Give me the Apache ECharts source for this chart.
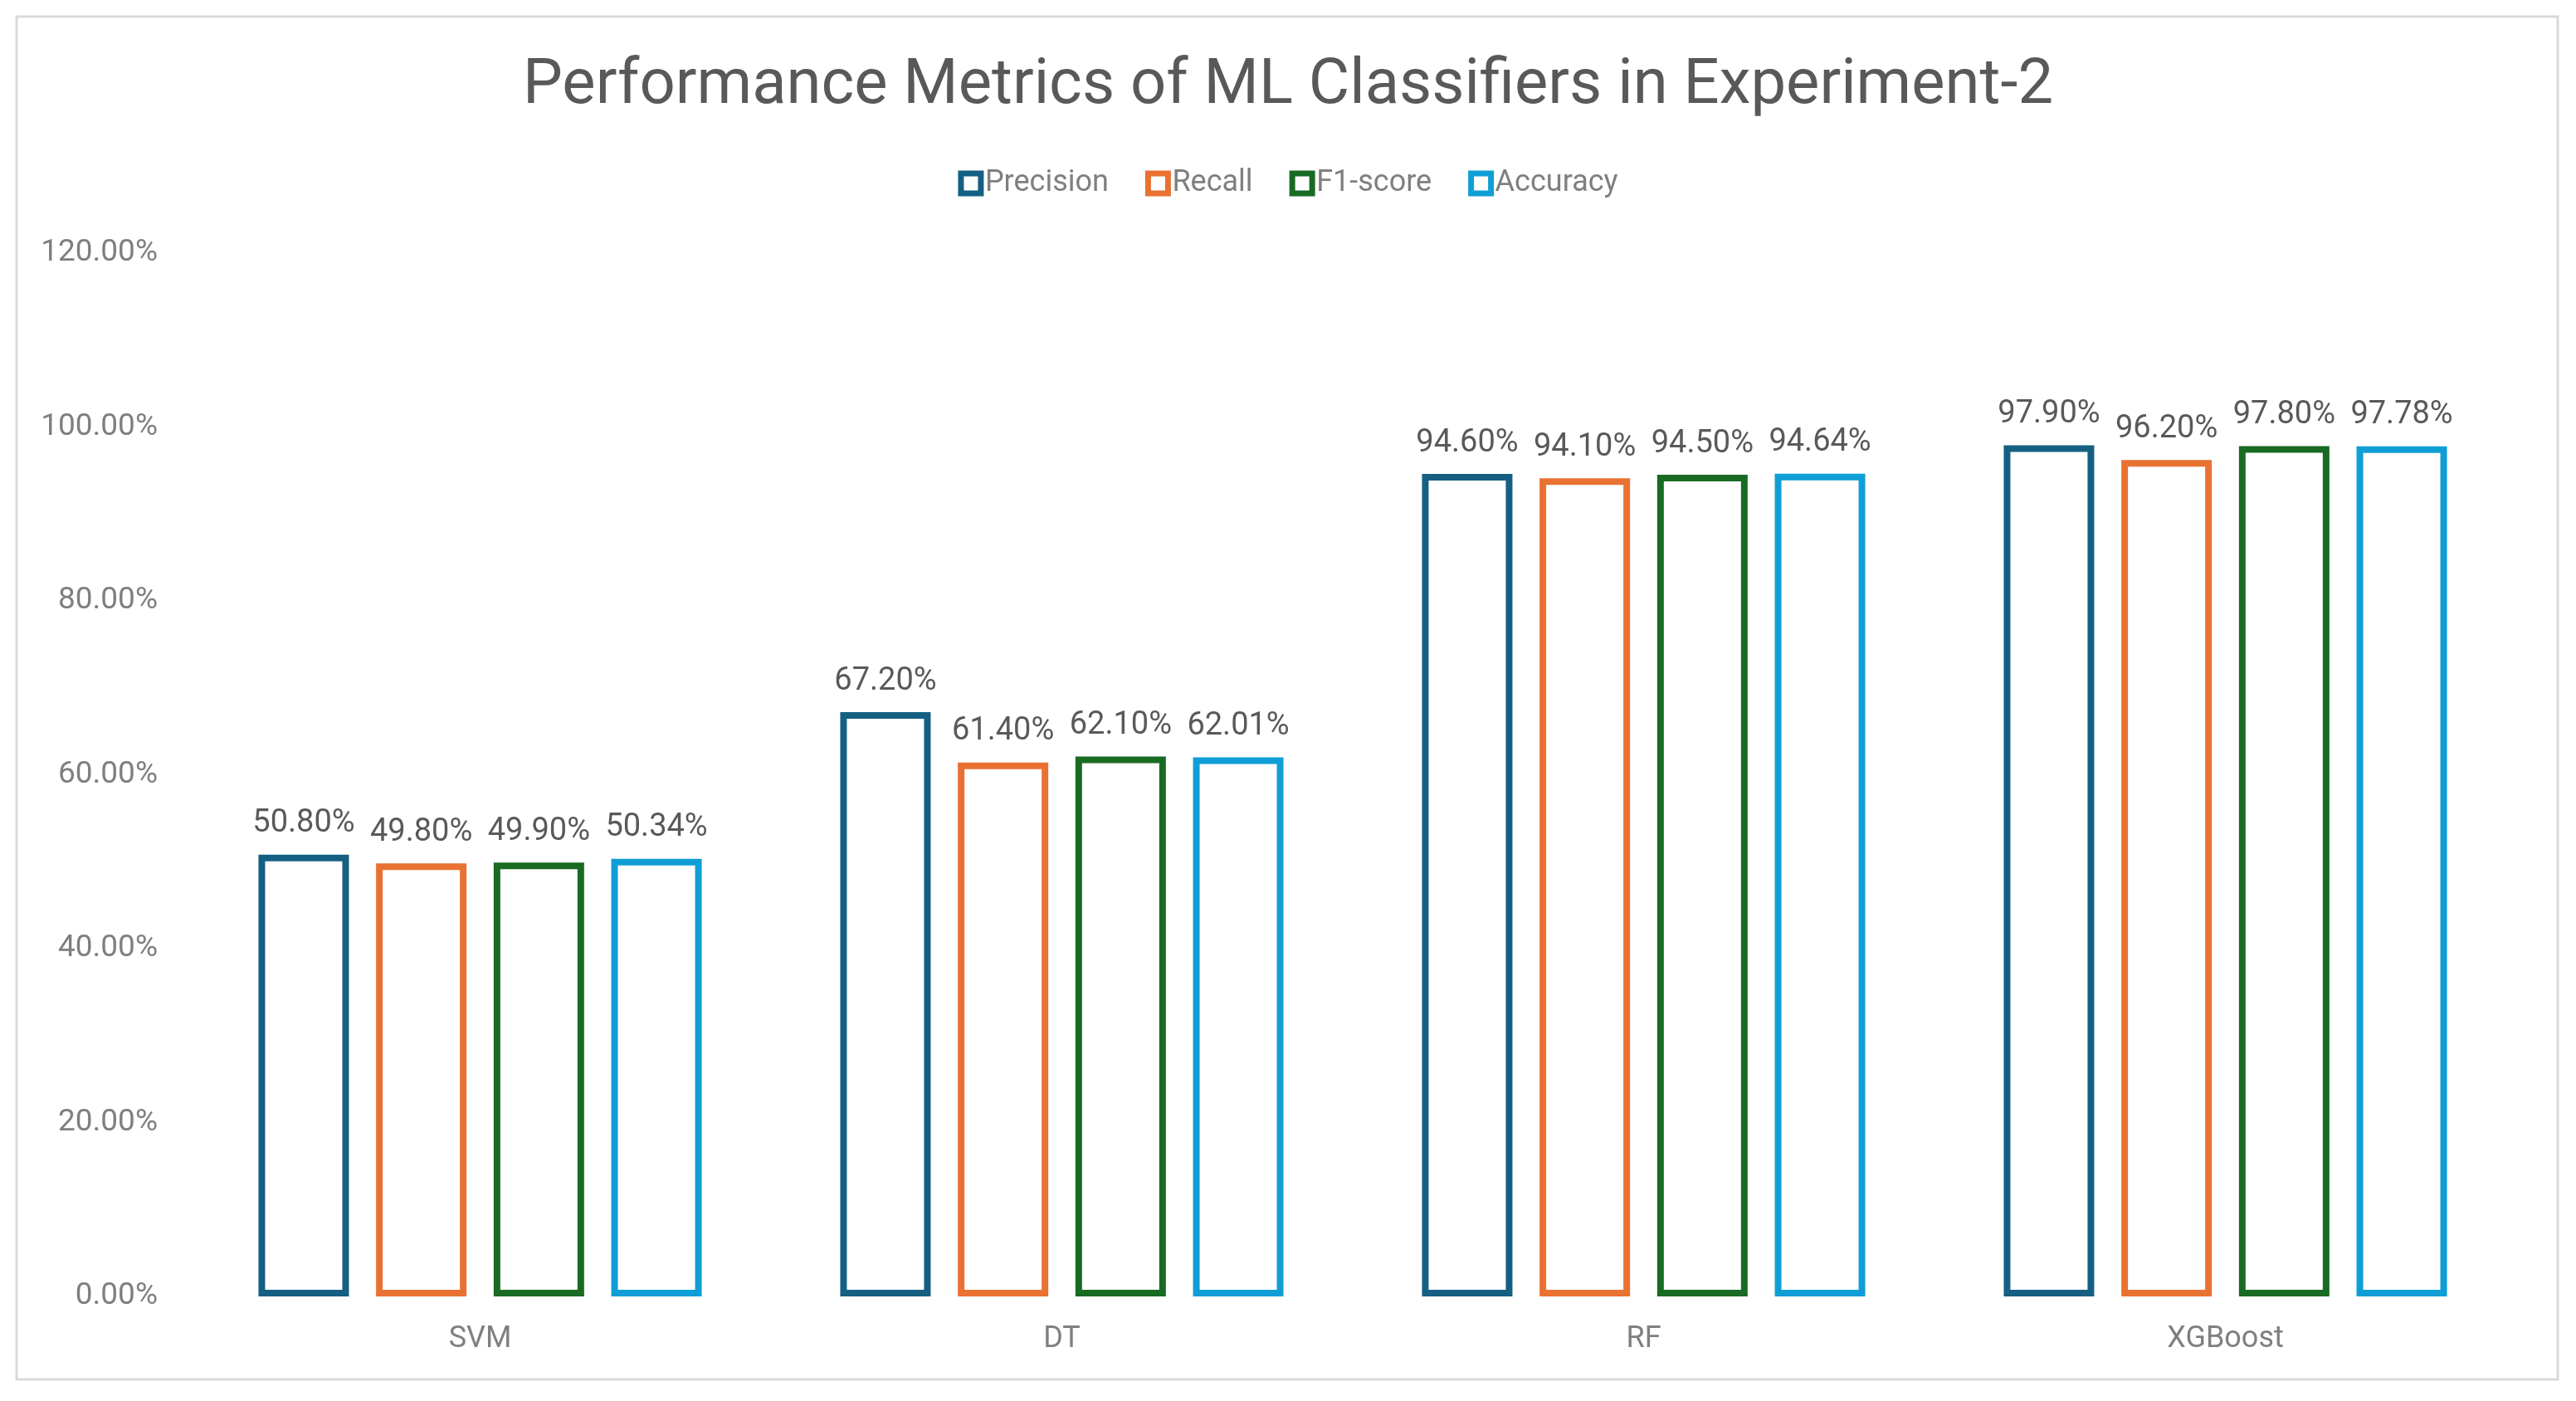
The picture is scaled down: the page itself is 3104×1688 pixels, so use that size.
<!DOCTYPE html>
<html>
<head>
<meta charset="utf-8">
<script src="https://cdn.jsdelivr.net/npm/echarts@6/dist/echarts.min.js"></script>
<style>
html,body{margin:0;padding:0;background:#fff;}
#chart{width:3104px;height:1688px;}
</style>
</head>
<body>
<div id="chart"></div>
<script>
const categories = ['SVM', 'DT', 'RF', 'XGBoost'];
const seriesNames = ['Precision', 'Recall', 'F1-score', 'Accuracy'];
const precision = [50.80, 67.20, 94.60, 97.90];
const recall = [49.80, 61.40, 94.10, 96.20];
const f1score = [49.90, 62.10, 94.50, 97.80];
const accuracy = [50.34, 62.01, 94.64, 97.78];
const colors = ['#156082', '#E97132', '#196B24', '#0F9ED5'];
const yTicks = { min: 0, max: 120, interval: 20 };

const values = [precision, recall, f1score, accuracy];
const font = 'Roboto, "Noto Sans", sans-serif';

const chart = echarts.init(document.getElementById('chart'), null, { renderer: 'canvas' });

const series = seriesNames.map((name, i) => ({
  name: name,
  type: 'bar',
  data: values[i],
  barWidth: 109,
  barGap: '30%',
  itemStyle: { color: '#ffffff', borderColor: colors[i], borderWidth: 8 },
  label: {
    show: true,
    position: 'top',
    distance: 18,
    formatter: p => p.value.toFixed(2) + '%',
    color: '#595959',
    fontSize: 38,
    fontFamily: font
  }
}));

chart.setOption({
  animation: false,
  backgroundColor: '#ffffff',
  title: {
    text: 'Performance Metrics of ML Classifiers in Experiment-2',
    left: 'center',
    top: 62,
    textStyle: { color: '#595959', fontSize: 76, fontWeight: 'normal', fontFamily: font }
  },
  legend: {
    data: seriesNames.map(n => ({ name: n, icon: 'rect' })),
    top: 198,
    left: 'center',
    itemWidth: 24,
    itemHeight: 24,
    itemGap: 44,
    itemStyle: { borderWidth: 7 },
    textStyle: { color: '#7f7f7f', fontSize: 36, fontFamily: font }
  },
  grid: { left: 228, right: 72, top: 305, bottom: 126, containLabel: false },
  xAxis: {
    type: 'category',
    data: categories,
    axisLine: { show: false },
    axisTick: { show: false },
    axisLabel: { color: '#7f7f7f', fontSize: 36, fontFamily: font, margin: 34 }
  },
  yAxis: {
    type: 'value',
    min: yTicks.min,
    max: yTicks.max,
    interval: yTicks.interval,
    axisLine: { show: false },
    axisTick: { show: false },
    splitLine: { show: false },
    axisLabel: {
      color: '#7f7f7f', fontSize: 37, fontFamily: font, margin: 38,
      formatter: v => v.toFixed(2) + '%'
    }
  },
  graphic: [{
    type: 'rect',
    silent: true,
    shape: { x: 20, y: 20, width: 3062, height: 1642 },
    style: { fill: 'none', stroke: '#d9d9d9', lineWidth: 3 }
  }],
  series: series
});
</script>
</body>
</html>
